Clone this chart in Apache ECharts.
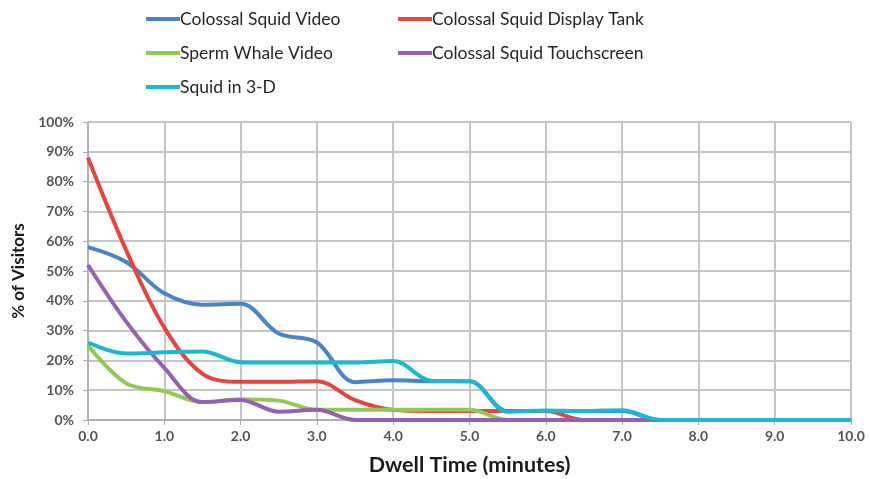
<!DOCTYPE html>
<html>
<head>
<meta charset="utf-8">
<script src="https://cdn.jsdelivr.net/npm/echarts@6/dist/echarts.min.js"></script>
<style>
  html, body { margin: 0; padding: 0; background: #fff; }
  #main { width: 870px; height: 479px; }
</style>
</head>
<body>
<div id="main"></div>
<script>
// dwell time in minutes, one sample every half minute
var minutes = [0, 0.5, 1, 1.5, 2, 2.5, 3, 3.5, 4, 4.5, 5, 5.5, 6, 6.5, 7, 7.5, 8, 8.5, 9, 9.5, 10];

var seriesNames = ['Colossal Squid Video', 'Colossal Squid Display Tank', 'Sperm Whale Video',
  'Colossal Squid Touchscreen', 'Squid in 3-D'];

// % of visitors
var squidVideo   = [58, 53, 42.5, 38.7, 39, 29, 26, 12.7, 13.3, 13, 13, 3, 3, 3, 3, 0, 0, 0, 0, 0, 0];
var displayTank  = [88, 57, 31, 15.5, 12.8, 12.8, 13, 6.7, 3.4, 3, 3, 3, 3, 0, 0, 0, 0, 0, 0, 0, 0];
var whaleVideo   = [25, 12.3, 9.7, 6, 7, 6.5, 3.4, 3.4, 3.4, 3.4, 3.4, 0, 0, 0, 0, 0, 0, 0, 0, 0, 0];
var touchscreen  = [52, 33, 17.5, 6, 6.7, 2.8, 3.4, 0, 0, 0, 0, 0, 0, 0, 0, 0, 0, 0, 0, 0, 0];
var squid3d      = [26, 22.3, 22.7, 23, 19.4, 19.3, 19.3, 19.3, 19.8, 13.2, 13, 2.8, 3.2, 3, 3.3, 0, 0, 0, 0, 0, 0];

var colors = ['#4a84c6', '#e2463f', '#92c955', '#9561b0', '#1cb8d2'];
var allValues = [squidVideo, displayTank, whaleVideo, touchscreen, squid3d];

function pairs(vals) {
  return vals.map(function (v, i) { return [minutes[i], v]; });
}

var chart = echarts.init(document.getElementById('main'));

var legendBase = {
  orient: 'vertical',
  top: 9,
  padding: 0,
  itemWidth: 34,
  itemHeight: 4,
  itemGap: 14,
  icon: 'rect',
  textStyle: { fontFamily: 'Lato', fontSize: 17.5, color: '#262626', lineHeight: 20, padding: [0, 0, 0, -5] }
};

var option = {
  animation: false,
  color: colors,
  legend: [
    Object.assign({}, legendBase, { left: 146, data: [seriesNames[0], seriesNames[2], seriesNames[4]] }),
    Object.assign({}, legendBase, { left: 398, data: [seriesNames[1], seriesNames[3]] })
  ],
  grid: { left: 88, right: 19, top: 122, bottom: 59, outerBoundsMode: 'none' },
  xAxis: {
    type: 'value',
    min: 0,
    max: 10,
    interval: 1,
    name: 'Dwell Time (minutes)',
    nameLocation: 'middle',
    nameGap: 34,
    nameTextStyle: { fontFamily: 'Lato', fontSize: 21.5, fontWeight: 'bold', color: '#1a1a1a' },
    axisLine: { lineStyle: { color: '#aaa', width: 1.5 } },
    axisTick: { show: true, length: 5, lineStyle: { color: '#aaa' } },
    axisLabel: {
      fontFamily: 'Lato', fontSize: 14, fontWeight: 'bold', color: '#555', margin: 9,
      formatter: function (v) { return v.toFixed(1); }
    },
    splitLine: { show: true, lineStyle: { color: '#c6c6c6', width: 2 } }
  },
  yAxis: {
    type: 'value',
    min: 0,
    max: 100,
    interval: 10,
    name: '% of Visitors',
    nameLocation: 'middle',
    nameGap: 58,
    nameTextStyle: { fontFamily: 'Lato', fontSize: 17, fontWeight: 'bold', color: '#1a1a1a' },
    axisLine: { show: true, lineStyle: { color: '#aaa', width: 1.5 } },
    axisTick: { show: true, length: 5, lineStyle: { color: '#aaa' } },
    axisLabel: {
      fontFamily: 'Lato', fontSize: 14, fontWeight: 'bold', color: '#555', margin: 14,
      formatter: '{value}%'
    },
    splitLine: { show: true, lineStyle: { color: '#c6c6c6', width: 2 } }
  },
  series: allValues.map(function (vals, i) {
    return {
      name: seriesNames[i],
      type: 'line',
      smooth: 0.35,
      showSymbol: false,
      symbol: 'none',
      lineStyle: { width: 4, color: colors[i] },
      data: pairs(vals)
    };
  })
};

chart.setOption(option);
</script>
</body>
</html>
